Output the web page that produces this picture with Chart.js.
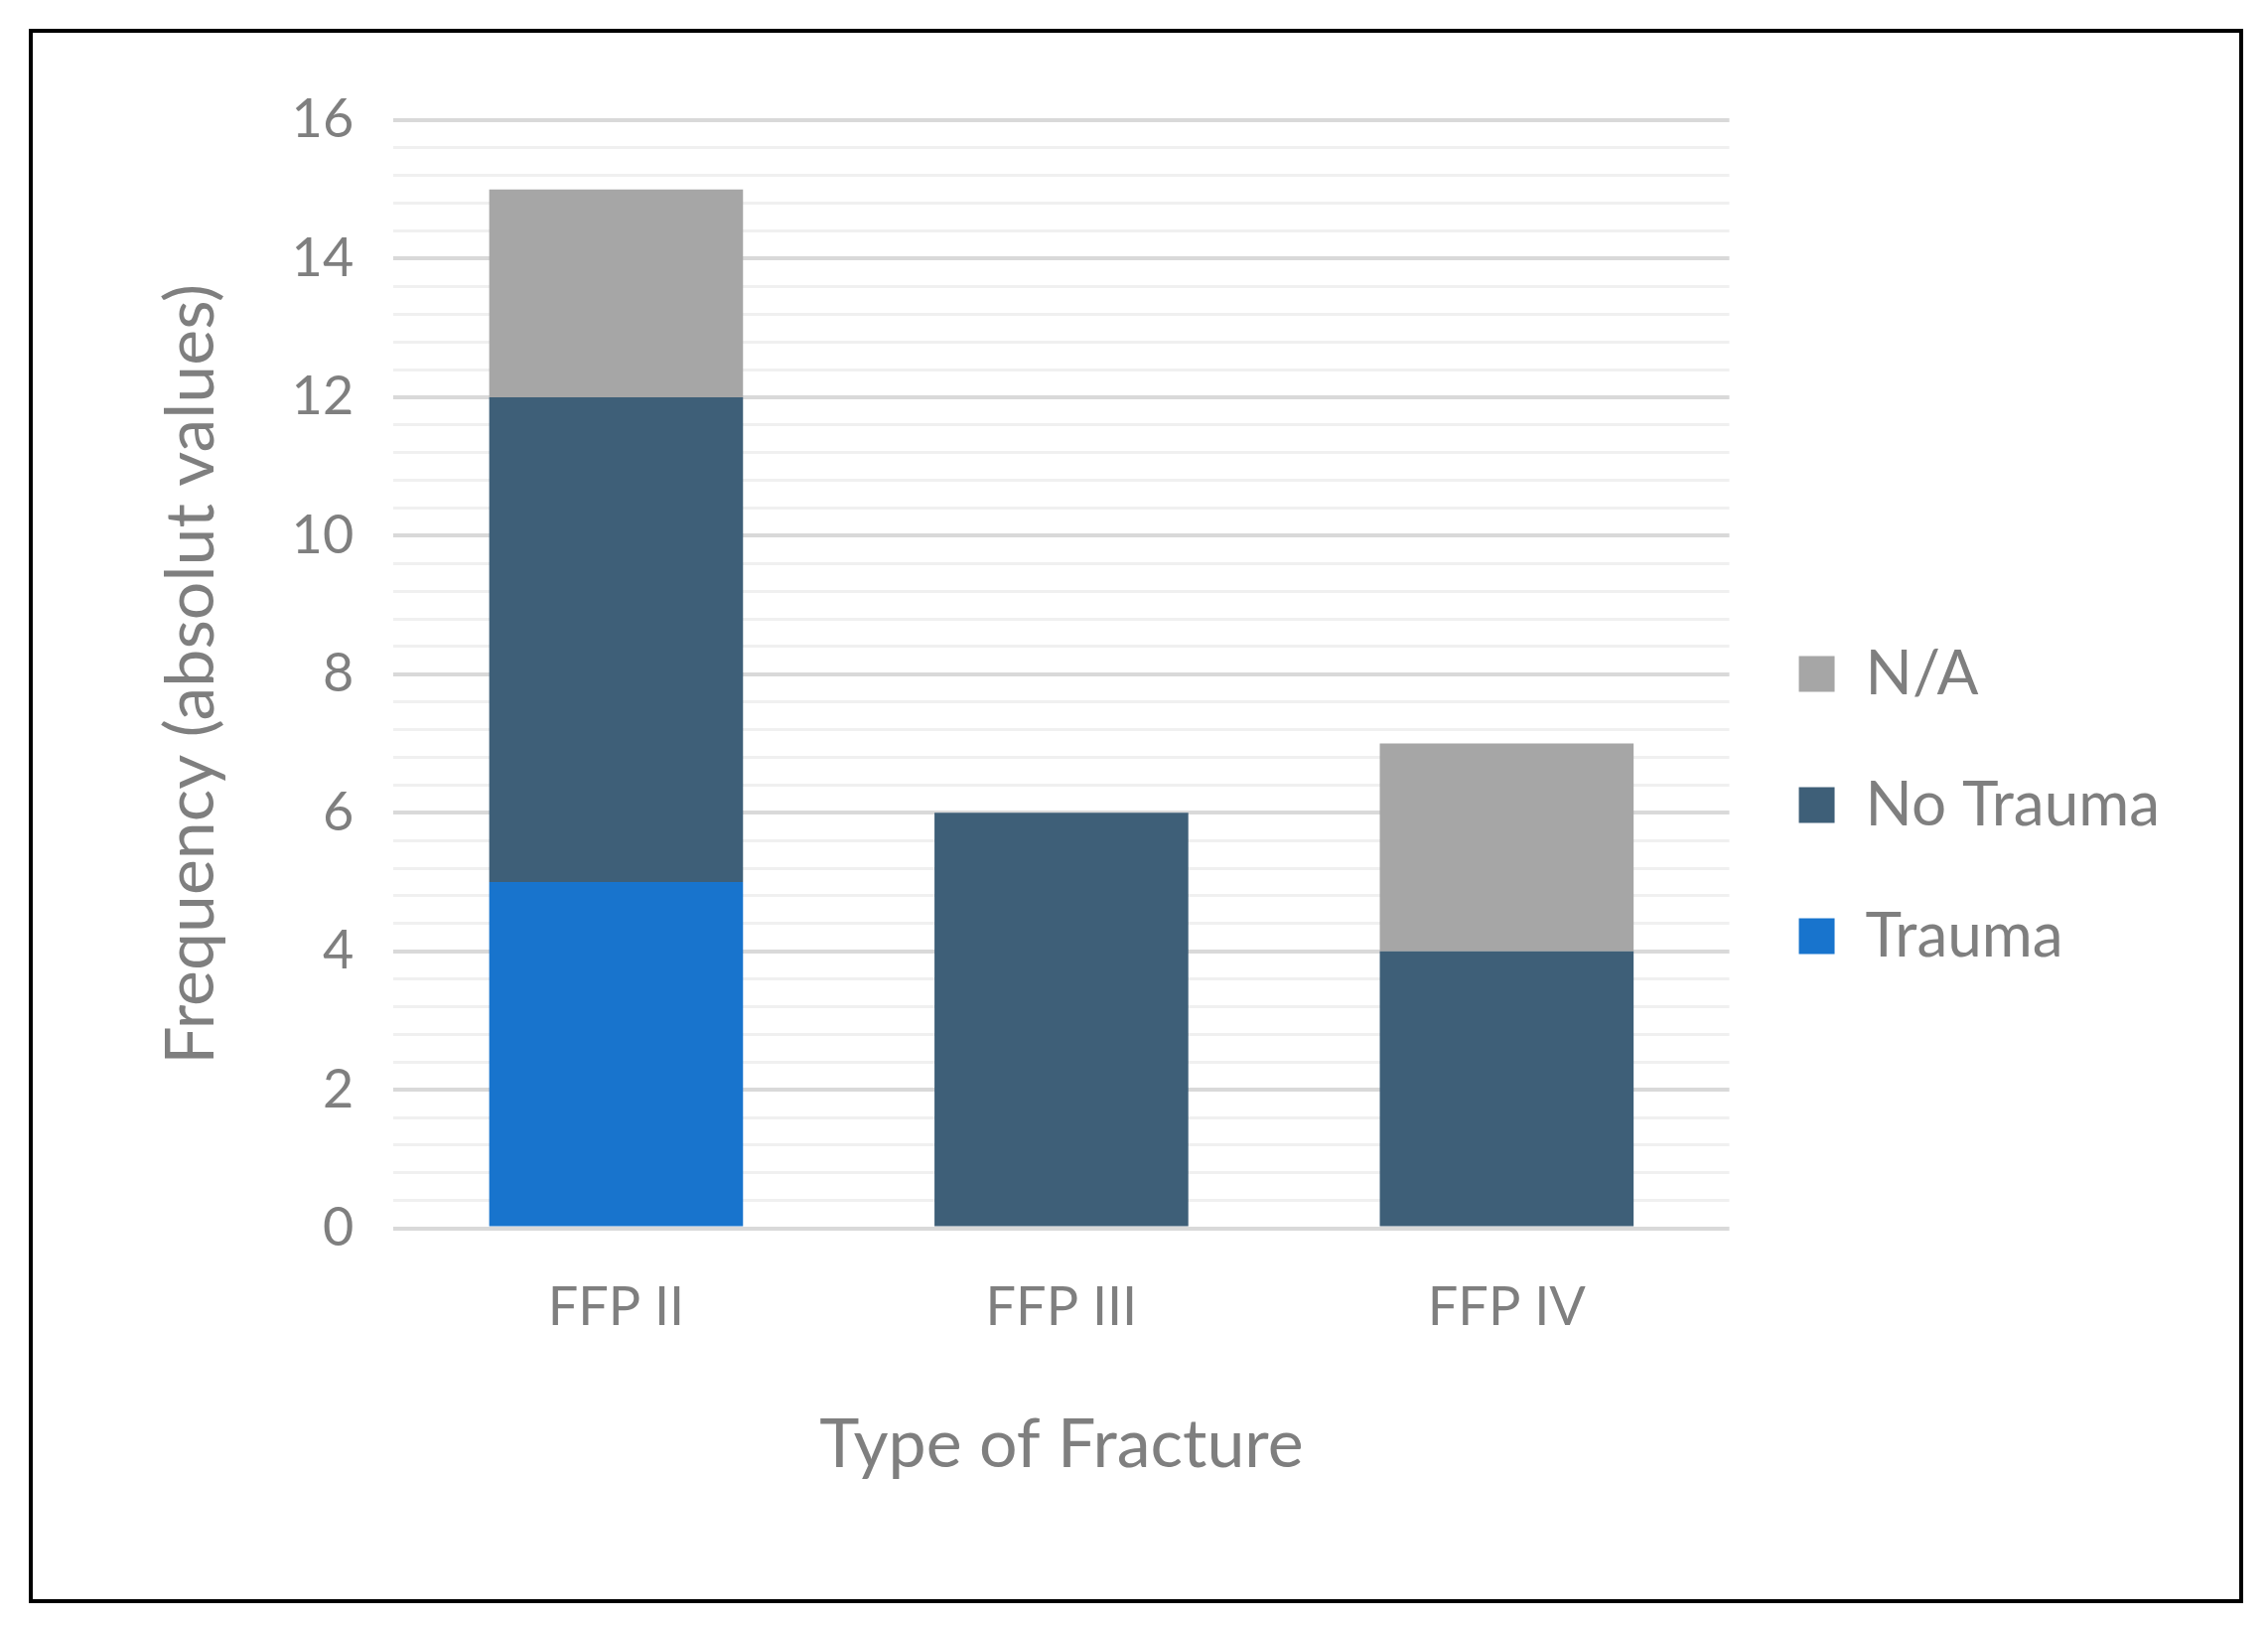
<!DOCTYPE html>
<html><head><meta charset="utf-8">
<script src="https://cdn.jsdelivr.net/npm/chart.js@4/dist/chart.umd.min.js"></script>
<style>
html,body{margin:0;padding:0;background:#fff;}
#box{position:absolute;left:29px;top:29px;width:2222px;height:1577px;border:4px solid #000;background:#fff;}
</style></head><body>
<div id="box"><canvas id="c" width="2222" height="1577"></canvas></div>
<script>
const categories = ["FFP II", "FFP III", "FFP IV"];
const trauma = [5, 0, 0];
const noTrauma = [7, 6, 4];
const na = [3, 0, 3];
const yTickLabels = [0, 2, 4, 6, 8, 10, 12, 14, 16];

const font = "Lato, 'Open Sans', sans-serif";
const grey = "#7f7f7f";
Chart.defaults.font.family = font;
Chart.defaults.color = grey;

new Chart(document.getElementById('c'), {
  type: 'bar',
  data: {
    labels: categories,
    datasets: [
      {label: 'Trauma', data: trauma, backgroundColor: '#1874CD', barPercentage: 0.57, categoryPercentage: 1},
      {label: 'No Trauma', data: noTrauma, backgroundColor: '#3E5F78', barPercentage: 0.57, categoryPercentage: 1},
      {label: 'N/A', data: na, backgroundColor: '#A6A6A6', barPercentage: 0.57, categoryPercentage: 1}
    ]
  },
  options: {
    responsive: false,
    animation: false,
    layout: {padding: {left: 115, right: 70, top: 88, bottom: 110}},
    plugins: {
      legend: {
        position: 'right',
        reverse: true,
        labels: {boxWidth: 36, boxHeight: 36, padding: 70, font: {size: 62}, color: grey}
      },
      tooltip: {enabled: false}
    },
    scales: {
      x: {
        stacked: true,
        grid: {display: false},
        border: {display: false},
        ticks: {font: {size: 54}, color: grey, padding: 40},
        title: {display: true, text: 'Type of Fracture', font: {size: 68}, color: grey, padding: {top: 25}}
      },
      y: {
        stacked: true,
        min: 0, max: 16,
        afterBuildTicks: axis => {
          const t = [];
          for (let i = 0; i <= 40; i++) t.push({value: i * 0.4});
          axis.ticks = t;
        },
        grid: {
          color: ctx => (Math.abs(ctx.tick.value / 2 - Math.round(ctx.tick.value / 2)) < 1e-6) ? '#d9d9d9' : '#f0f0f0',
          lineWidth: ctx => (Math.abs(ctx.tick.value / 2 - Math.round(ctx.tick.value / 2)) < 1e-6) ? 4 : 3,
          drawTicks: false
        },
        border: {display: false},
        ticks: {
          font: {size: 54}, color: grey, padding: 40, autoSkip: false,
          callback: v => {
            const r = Math.round(v);
            return (Math.abs(v - r) < 1e-6 && r % 2 === 0 && yTickLabels.includes(r)) ? String(r) : '';
          }
        },
        title: {display: true, text: 'Frequency (absolut values)', font: {size: 68}, color: grey, padding: {bottom: 20}}
      }
    }
  }
});
</script>
</body></html>
